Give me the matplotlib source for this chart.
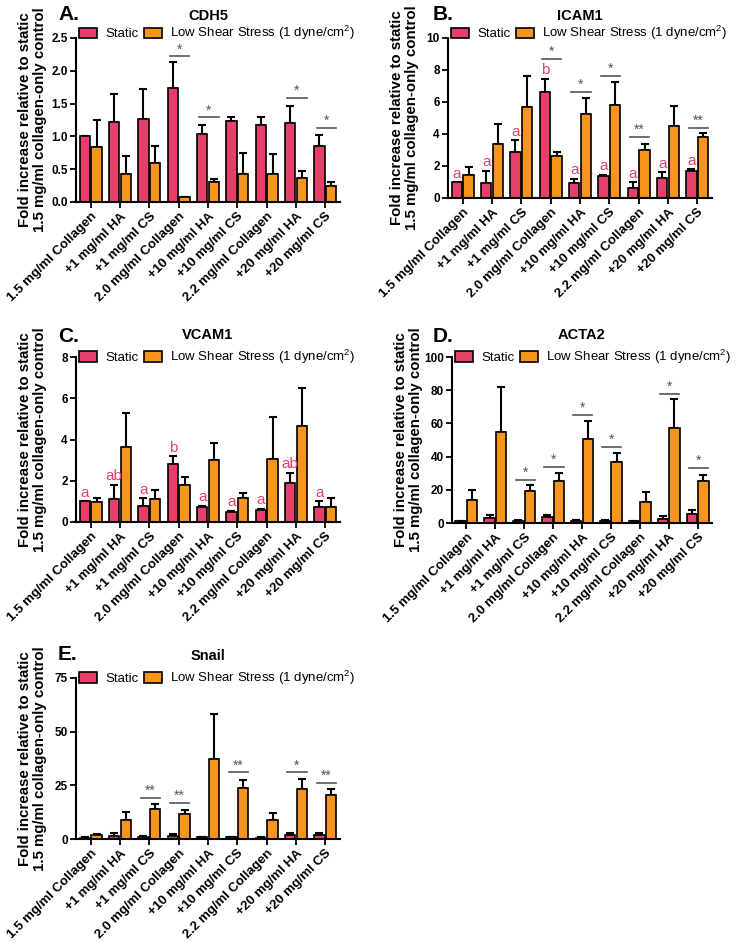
import numpy as np
import matplotlib
matplotlib.use("Agg")
import matplotlib.pyplot as plt
from matplotlib.patches import Patch

plt.rcParams["font.family"] = ["Liberation Sans", "DejaVu Sans"]
plt.rcParams["mathtext.fontset"] = "custom"
plt.rcParams["mathtext.rm"] = "Liberation Sans"

# Condições (eixo x)
grupos = ["1.5 mg/ml Collagen", "+1 mg/ml HA", "+1 mg/ml CS",
          "2.0 mg/ml Collagen", "+10 mg/ml HA", "+10 mg/ml CS",
          "2.2 mg/ml Collagen", "+20 mg/ml HA", "+20 mg/ml CS"]

# A. CDH5
cdh5_static = [1.00, 1.22, 1.27, 1.74, 1.04, 1.24, 1.17, 1.21, 0.86]
cdh5_static_err = [0.0, 0.43, 0.45, 0.39, 0.13, 0.06, 0.13, 0.26, 0.16]
cdh5_shear = [0.84, 0.43, 0.60, 0.07, 0.31, 0.43, 0.42, 0.37, 0.25]
cdh5_shear_err = [0.41, 0.27, 0.26, 0.01, 0.04, 0.32, 0.31, 0.11, 0.05]
cdh5_sig_idx = [3, 4, 7, 8]
cdh5_sig_txt = ["*", "*", "*", "*"]
cdh5_sig_y = [2.22, 1.29, 1.59, 1.13]

# B. ICAM1
icam1_static = [1.0, 0.95, 2.9, 6.6, 0.95, 1.35, 0.65, 1.25, 1.7]
icam1_static_err = [0.0, 0.75, 0.7, 0.85, 0.25, 0.1, 0.35, 0.35, 0.1]
icam1_shear = [1.45, 3.35, 5.7, 2.6, 5.25, 5.8, 3.0, 4.5, 3.8]
icam1_shear_err = [0.5, 1.3, 1.9, 0.3, 1.0, 1.45, 0.4, 1.25, 0.25]
icam1_letras = ["a", "a", "a", "b", "a", "a", "a", "a", "a"]
icam1_sig_idx = [3, 4, 5, 6, 8]
icam1_sig_txt = ["*", "*", "*", "**", "**"]
icam1_sig_y = [8.7, 6.65, 7.65, 3.8, 4.4]

# C. VCAM1
vcam1_static = [1.0, 1.1, 0.8, 2.8, 0.75, 0.5, 0.6, 1.9, 0.75]
vcam1_static_err = [0.0, 0.7, 0.35, 0.4, 0.05, 0.05, 0.05, 0.5, 0.25]
vcam1_shear = [0.95, 3.65, 1.1, 1.8, 3.0, 1.15, 3.05, 4.65, 0.75]
vcam1_shear_err = [0.2, 1.65, 0.45, 0.4, 0.85, 0.25, 2.05, 1.85, 0.4]
vcam1_letras = ["a", "ab", "a", "b", "a", "a", "a", "ab", "a"]

# D. ACTA2
acta2_static = [1.0, 3.0, 1.5, 3.5, 1.5, 1.5, 1.0, 2.5, 5.5]
acta2_static_err = [0.0, 2.0, 0.5, 1.5, 0.5, 0.5, 0.5, 1.5, 2.5]
acta2_shear = [14.0, 55.0, 19.4, 25.5, 50.6, 37.0, 12.5, 57.4, 25.5]
acta2_shear_err = [6.0, 26.8, 3.6, 4.5, 11.0, 5.0, 6.3, 17.6, 3.5]
acta2_sig_idx = [2, 3, 4, 5, 7, 8]
acta2_sig_txt = ["*", "*", "*", "*", "*", "*"]
acta2_sig_y = [26, 34, 65, 46, 78, 33]

# E. Snail
snail_static = [0.5, 1.5, 0.8, 1.5, 0.8, 0.8, 0.6, 2.0, 2.0]
snail_static_err = [0.5, 1.5, 0.4, 1.0, 0.2, 0.2, 0.2, 1.0, 1.0]
snail_shear = [2.0, 8.8, 13.9, 11.5, 37.5, 23.6, 8.8, 23.1, 20.4]
snail_shear_err = [0.5, 3.7, 2.3, 1.9, 20.8, 3.7, 3.2, 4.7, 2.7]
snail_sig_idx = [2, 3, 5, 7, 8]
snail_sig_txt = ["**", "**", "**", "*", "**"]
snail_sig_y = [19, 16.7, 31, 31, 26]

ROSA = "#E5406A"
LARANJA = "#F7941D"
CINZA = "#555555"
W, H = 737, 942

fig = plt.figure(figsize=(W / 100, H / 100), dpi=100)


def caixa(x0, y0, x1, y1):
    # converte pixels (origem no topo) em coordenadas da figura
    return [x0 / W, 1 - y1 / H, (x1 - x0) / W, (y1 - y0) / H]


def painel(rect, titulo, static, static_err, shear, shear_err,
           ymax, yticks, fmt, letras=None, sig=None, leg_dy=0.03):
    ax = fig.add_axes(caixa(*rect))
    x = np.arange(len(grupos))
    larg = 0.36
    zeros = np.zeros(len(grupos))
    ax.errorbar(x - 0.2, static, yerr=[zeros, static_err], fmt="none",
                ecolor="k", elinewidth=1.5, capsize=3, capthick=1.5, zorder=1)
    ax.errorbar(x + 0.2, shear, yerr=[zeros, shear_err], fmt="none",
                ecolor="k", elinewidth=1.5, capsize=3, capthick=1.5, zorder=1)
    ax.bar(x - 0.2, static, larg, color=ROSA, edgecolor="k", lw=1.2, zorder=2)
    ax.bar(x + 0.2, shear, larg, color=LARANJA, edgecolor="k", lw=1.2, zorder=2)

    if letras is not None:
        for i, l in enumerate(letras):
            ax.annotate(l, (x[i] - 0.2, static[i] + static_err[i]),
                        xytext=(0, 1), textcoords="offset points",
                        ha="center", va="bottom", color=ROSA, fontsize=11)
    if sig is not None:
        for i, t, h in zip(*sig):
            ax.plot([x[i] - 0.3, x[i] + 0.36], [h, h], color=CINZA, lw=1.2)
            ax.text(x[i] + 0.03, h, t, ha="center", va="bottom",
                    color=CINZA, fontsize=10)

    ax.set_xlim(-0.5, len(grupos) - 0.5)
    ax.set_ylim(0, ymax)
    ax.set_yticks(yticks)
    ax.set_yticklabels([fmt % v for v in yticks], fontweight="bold", fontsize=8.5)
    ax.set_xticks(x)
    ax.set_xticklabels(grupos, rotation=45, ha="right", rotation_mode="anchor",
                       fontweight="bold", fontsize=9.5)
    for s in ["top", "right"]:
        ax.spines[s].set_visible(False)
    for s in ["left", "bottom"]:
        ax.spines[s].set_linewidth(1.5)
    ax.tick_params(width=1.3, length=4, pad=2)
    ax.set_ylabel("Fold increase relative to static\n1.5 mg/ml collagen-only control",
                  fontweight="bold", fontsize=10.8, linespacing=1.1)
    ax.yaxis.set_label_coords(-0.11, 0.5)
    ax.set_title(titulo, fontweight="bold", fontsize=10.5, pad=13)

    alca = [Patch(facecolor=ROSA, edgecolor="k", lw=1.2),
            Patch(facecolor=LARANJA, edgecolor="k", lw=1.2)]
    ax.legend(alca, ["Static", "Low Shear Stress (1 dyne/cm$^2$)"], ncol=2,
              loc="center left", bbox_to_anchor=(0.0, 1.0 + leg_dy),
              frameon=False, fontsize=9.5, handlelength=1.4, handleheight=0.8,
              handletextpad=0.6, columnspacing=0.4, borderaxespad=0,
              borderpad=0.2)
    return ax


painel((76, 38, 340, 202), "CDH5", cdh5_static, cdh5_static_err,
       cdh5_shear, cdh5_shear_err, 2.5, [0, 0.5, 1.0, 1.5, 2.0, 2.5], "%.1f",
       sig=(cdh5_sig_idx, cdh5_sig_txt, cdh5_sig_y))
painel((448, 38, 712, 198), "ICAM1", icam1_static, icam1_static_err,
       icam1_shear, icam1_shear_err, 10, [0, 2, 4, 6, 8, 10], "%d",
       letras=icam1_letras, sig=(icam1_sig_idx, icam1_sig_txt, icam1_sig_y))
painel((76, 357, 340, 522), "VCAM1", vcam1_static, vcam1_static_err,
       vcam1_shear, vcam1_shear_err, 8, [0, 2, 4, 6, 8], "%d",
       letras=vcam1_letras, leg_dy=0.0)
painel((452, 357, 712, 523), "ACTA2", acta2_static, acta2_static_err,
       acta2_shear, acta2_shear_err, 100, [0, 20, 40, 60, 80, 100], "%d",
       sig=(acta2_sig_idx, acta2_sig_txt, acta2_sig_y), leg_dy=0.0)
painel((76, 678, 340, 839), "Snail", snail_static, snail_static_err,
       snail_shear, snail_shear_err, 75, [0, 25, 50, 75], "%d",
       sig=(snail_sig_idx, snail_sig_txt, snail_sig_y), leg_dy=0.0)

# letras dos painéis
for l, px, py in [("A.", 58, 14), ("B.", 433, 14), ("C.", 58, 337),
                  ("D.", 433, 337), ("E.", 58, 655)]:
    fig.text(px / W, 1 - py / H, l, fontsize=15, fontweight="bold",
             ha="left", va="center")

fig.savefig("out.png", dpi=100)
